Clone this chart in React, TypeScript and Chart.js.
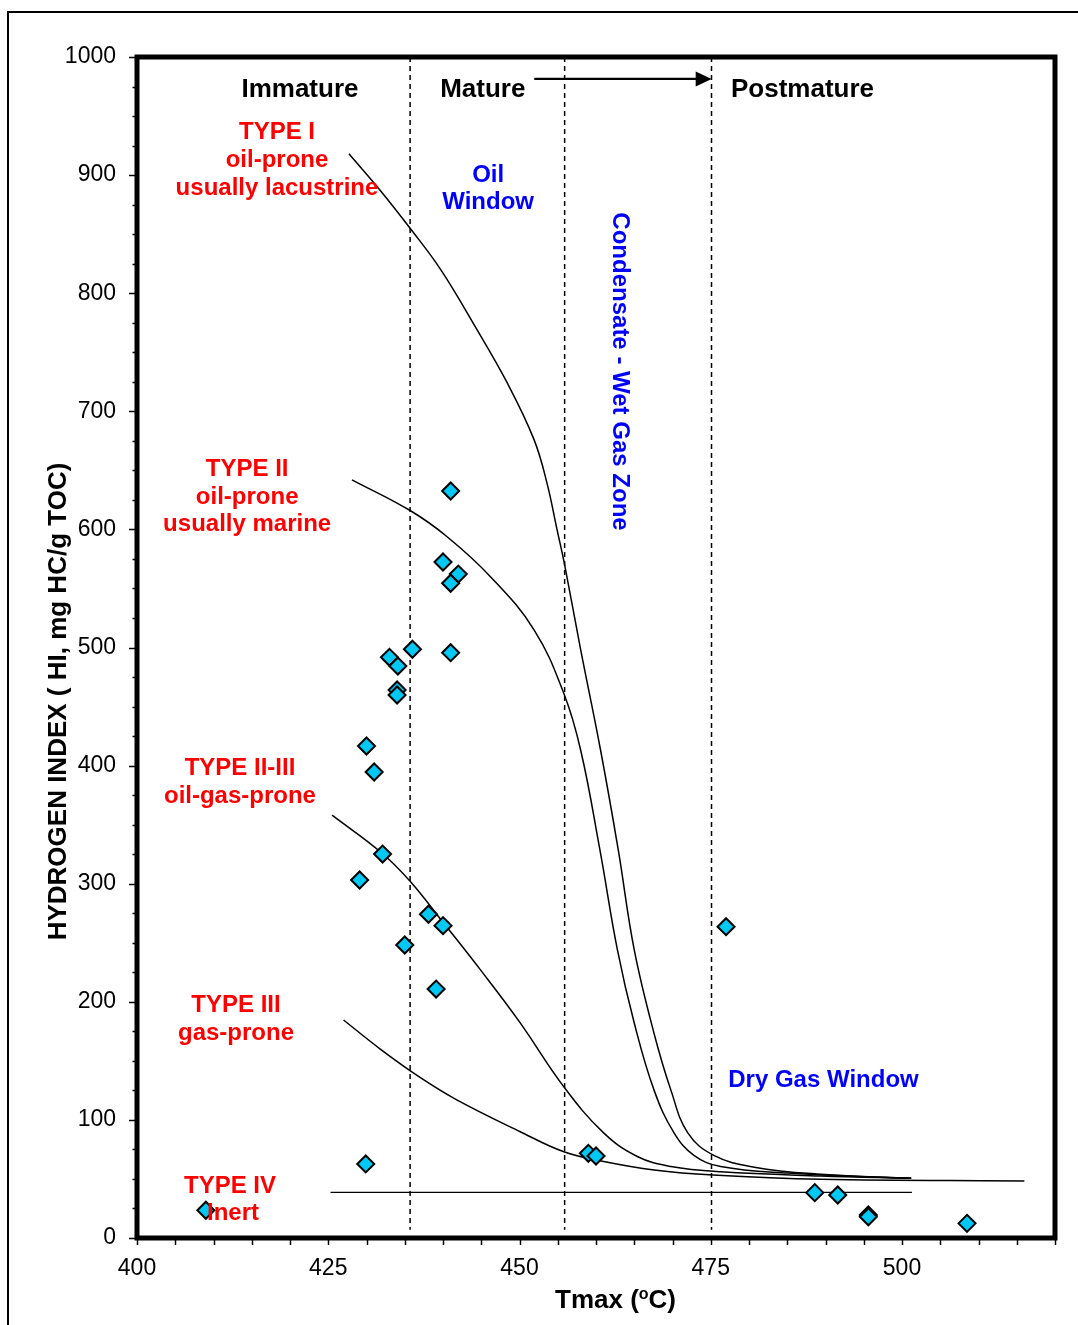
import { useEffect, useRef } from "react";
import { Chart, registerables } from "chart.js";

Chart.register(...registerables);

const FONT = '"Liberation Sans", Arial, Helvetica, sans-serif';

// ---- Sample data (Tmax °C, HI mg HC/g TOC) ----
const sampleTmax = [441.0, 440.0, 442.0, 441.0, 436.0, 441.0, 433.0, 434.1, 434.0, 434.0, 430.0, 431.0, 432.1, 429.1, 438.1, 440.0, 435.0, 439.1, 429.9, 409.0, 459.0, 460.0, 477.0, 488.6, 491.6, 495.6, 495.6, 508.5];
const sampleHI = [632.5, 572.4, 562.2, 554.4, 498.5, 495.6, 491.7, 484.3, 464.0, 459.8, 416.6, 394.6, 325.1, 303.1, 274.1, 264.5, 248.1, 210.8, 62.7, 23.5, 71.7, 69.4, 263.6, 38.4, 36.4, 19.5, 18.0, 12.4];

// ---- Kerogen type maturation curves ----
const typeITmax = [427.7, 431.8, 435.7, 439.7, 444.0, 448.4, 451.9, 453.6, 454.9, 455.9, 458.0, 460.6, 462.9, 465.0, 467.6, 469.8, 472.0, 475.4, 480.7, 489.4, 501.2];
const typeIHI = [918, 887, 855, 820, 774, 724, 676, 639, 600, 570, 498, 413, 329, 244, 173, 125, 89, 70, 60, 54, 50.5];

const typeIITmax = [428.1, 435.7, 440.5, 446.2, 451.9, 455.8, 458.0, 460.5, 462.8, 465.0, 467.6, 470.2, 472.8, 476.3, 485.0, 501.2];
const typeIIHI = [642, 616, 594, 560, 515, 461, 413, 329, 244, 182, 125, 89, 70, 60.5, 55, 50.5];

const typeIIIIITmax = [425.5, 432.0, 435.7, 440.1, 444.9, 450.0, 455.8, 461.0, 465.4, 469.8, 476.3, 489.4, 501.2];
const typeIIIIIHI = [358, 326, 302, 266.5, 227, 183, 128, 89, 69, 60.5, 56, 52.5, 50.5];

const typeIIITmax = [427.0, 431.8, 437.0, 441.8, 450.1, 455.8, 461.0, 467.6, 475.3, 489.4, 516.0];
const typeIIIHI = [184.6, 160, 136, 117, 90, 73, 64.8, 57.6, 53.3, 49.7, 48.3];

const typeIVTmax = [425.3, 501.3];
const typeIVHI = [38.7, 38.7];

// ---- Maturity zone boundaries (Tmax) ----
const boundaryTmax = [435.7, 455.9, 475.1];
const boundaryHIRange = [1000, 7];

// ---- Axis ticks ----
const xMin = 400, xMax = 520, xStep = 5, xLabelEvery = 25, xLabelMax = 500;
const yMin = 0, yMax = 1000, yStep = 25, yLabelEvery = 100;

// ---- Annotations (text placed in data coordinates) ----
type Note = { text: string; x: number; y: number; color: string; size: number; align: CanvasTextAlign; rotate?: number };
const annotations: Note[] = [
  { text: "Immature", x: 421.3, y: 966.1, color: "#000", size: 26, align: "center" },
  { text: "Mature", x: 445.2, y: 966.1, color: "#000", size: 26, align: "center" },
  { text: "Postmature", x: 477.65, y: 966.1, color: "#000", size: 26, align: "left" },
  { text: "TYPE I", x: 418.3, y: 930.6, color: "#FF0000", size: 24, align: "center" },
  { text: "oil-prone", x: 418.3, y: 906.9, color: "#FF0000", size: 24, align: "center" },
  { text: "usually lacustrine", x: 418.3, y: 883.2, color: "#FF0000", size: 24, align: "center" },
  { text: "Oil", x: 445.9, y: 894.4, color: "#0000FF", size: 24, align: "center" },
  { text: "Window", x: 445.9, y: 871.0, color: "#0000FF", size: 24, align: "center" },
  { text: "TYPE II", x: 414.4, y: 645.2, color: "#FF0000", size: 24, align: "center" },
  { text: "oil-prone", x: 414.4, y: 621.5, color: "#FF0000", size: 24, align: "center" },
  { text: "usually marine", x: 414.4, y: 598.9, color: "#FF0000", size: 24, align: "center" },
  { text: "TYPE II-III", x: 413.46, y: 392.0, color: "#FF0000", size: 24, align: "center" },
  { text: "oil-gas-prone", x: 413.46, y: 368.6, color: "#FF0000", size: 24, align: "center" },
  { text: "TYPE III", x: 412.94, y: 191.4, color: "#FF0000", size: 24, align: "center" },
  { text: "gas-prone", x: 412.94, y: 167.7, color: "#FF0000", size: 24, align: "center" },
  { text: "TYPE IV", x: 412.16, y: 38.1, color: "#FF0000", size: 24, align: "center" },
  { text: "Inert", x: 412.55, y: 15.2, color: "#FF0000", size: 24, align: "center" },
  { text: "Dry Gas Window", x: 477.29, y: 127.9, color: "#0000FF", size: 24, align: "left" },
  { text: "Condensate - Wet Gas Zone", x: 462.22, y: 733.7, color: "#0000FF", size: 24, align: "center", rotate: Math.PI / 2 },
];
const arrowFrom = { x: 451.93, y: 981.4 };
const arrowTo = { x: 475.12, y: 981.4 };

const decorPlugin = {
  id: "decor",
  afterDatasetsDraw(chart: any) {
    const { ctx, chartArea: a } = chart;
    const xs = chart.scales.x;
    const ys = chart.scales.y;
    ctx.save();
    // plot frame
    ctx.strokeStyle = "#000";
    ctx.lineWidth = 5;
    ctx.strokeRect(a.left, a.top, a.right - a.left, a.bottom - a.top);
    // tick marks
    ctx.lineWidth = 1.5;
    xs.ticks.forEach((t: any) => {
      const px = Math.round(xs.getPixelForValue(t.value)) + 0.5;
      ctx.beginPath();
      ctx.moveTo(px, a.bottom);
      ctx.lineTo(px, a.bottom + 7);
      ctx.stroke();
    });
    ys.ticks.forEach((t: any) => {
      const py = Math.round(ys.getPixelForValue(t.value)) + 0.5;
      const len = t.value % yLabelEvery === 0 ? 8 : 4.5;
      ctx.beginPath();
      ctx.moveTo(a.left - len, py);
      ctx.lineTo(a.left, py);
      ctx.stroke();
    });
    // arrow
    const x1 = xs.getPixelForValue(arrowFrom.x);
    const x2 = xs.getPixelForValue(arrowTo.x);
    const ay = ys.getPixelForValue(arrowFrom.y);
    ctx.lineWidth = 2.2;
    ctx.beginPath();
    ctx.moveTo(x1, ay);
    ctx.lineTo(x2 - 14, ay);
    ctx.stroke();
    ctx.fillStyle = "#000";
    ctx.beginPath();
    ctx.moveTo(x2, ay);
    ctx.lineTo(x2 - 16, ay - 7.5);
    ctx.lineTo(x2 - 16, ay + 7.5);
    ctx.closePath();
    ctx.fill();
    // annotations
    annotations.forEach((n) => {
      const px = xs.getPixelForValue(n.x);
      const py = ys.getPixelForValue(n.y);
      ctx.save();
      ctx.font = `bold ${n.size}px ${FONT}`;
      ctx.fillStyle = n.color;
      ctx.textAlign = n.align;
      ctx.textBaseline = "alphabetic";
      ctx.translate(px, py);
      if (n.rotate) ctx.rotate(n.rotate);
      ctx.fillText(n.text, 0, 0);
      ctx.restore();
    });
    ctx.restore();
  },
  afterDraw(chart: any) {
    const { ctx } = chart;
    ctx.save();
    ctx.fillStyle = "#000";
    // y-axis title
    ctx.save();
    ctx.font = `bold 26px ${FONT}`;
    ctx.textAlign = "center";
    ctx.textBaseline = "alphabetic";
    ctx.translate(66, 701.5);
    ctx.rotate(-Math.PI / 2);
    ctx.fillText("HYDROGEN INDEX ( HI, mg HC/g TOC)", 0, 0);
    ctx.restore();
    // x-axis title with superscript
    ctx.textAlign = "left";
    ctx.textBaseline = "alphabetic";
    let x = 555;
    ctx.font = `bold 26px ${FONT}`;
    ctx.fillText("Tmax (", x, 1308);
    x += ctx.measureText("Tmax (").width;
    ctx.font = `bold 16px ${FONT}`;
    ctx.fillText("o", x, 1299);
    x += ctx.measureText("o").width;
    ctx.font = `bold 26px ${FONT}`;
    ctx.fillText("C)", x, 1308);
    ctx.restore();
  },
};

export default function App() {
  const ref = useRef<HTMLCanvasElement | null>(null);

  useEffect(() => {
    if (!ref.current) return;
    const line = (tx: number[], hi: number[], label: string) => ({
      label,
      data: tx.map((x, i) => ({ x, y: hi[i] })),
      showLine: true,
      borderColor: "#000",
      borderWidth: 1.5,
      pointRadius: 0,
      tension: 0.4,
      fill: false,
    });
    const datasets: any[] = [
      {
        label: "Samples",
        data: sampleTmax.map((x, i) => ({ x, y: sampleHI[i] })),
        showLine: false,
        pointStyle: "rectRot",
        pointRadius: 8.5,
        pointBackgroundColor: "#00C8F5",
        pointBorderColor: "#000",
        pointBorderWidth: 2,
      },
      line(typeITmax, typeIHI, "Type I"),
      line(typeIITmax, typeIIHI, "Type II"),
      line(typeIIIIITmax, typeIIIIIHI, "Type II-III"),
      line(typeIIITmax, typeIIIHI, "Type III"),
      { ...line(typeIVTmax, typeIVHI, "Type IV"), borderWidth: 1.2, tension: 0 },
      ...boundaryTmax.map((b, i) => ({
        label: `Boundary ${i + 1}`,
        data: boundaryHIRange.map((y) => ({ x: b, y })),
        showLine: true,
        borderColor: "#000",
        borderWidth: 1.5,
        borderDash: [5, 4],
        pointRadius: 0,
        tension: 0,
        fill: false,
      })),
    ];

    const chart = new Chart(ref.current, {
      type: "scatter",
      data: { datasets },
      options: {
        animation: false,
        responsive: false,
        devicePixelRatio: 1,
        layout: { padding: { top: 57, right: 23, left: 0, bottom: 0 } },
        plugins: { legend: { display: false }, tooltip: { enabled: false }, title: { display: false } },
        scales: {
          x: {
            type: "linear",
            min: xMin,
            max: xMax,
            afterFit: (s: any) => { s.height = 87; },
            border: { display: false },
            grid: { display: true, drawOnChartArea: false, drawTicks: true, tickLength: 8, tickColor: "rgba(0,0,0,0)" },
            ticks: {
              stepSize: xStep,
              autoSkip: false,
              maxRotation: 0,
              padding: 9,
              color: "#000",
              font: { family: FONT, size: 23 },
              callback: (v: any) => (v % xLabelEvery === 0 && v <= xLabelMax ? String(v) : ""),
            },
          },
          y: {
            type: "linear",
            min: yMin,
            max: yMax,
            afterFit: (s: any) => { s.width = 137; },
            border: { display: false },
            grid: { display: true, drawOnChartArea: false, drawTicks: true, tickLength: 8, tickColor: "rgba(0,0,0,0)" },
            ticks: {
              stepSize: yStep,
              autoSkip: false,
              padding: 13,
              color: "#000",
              font: { family: FONT, size: 23 },
              callback: (v: any) => (v % yLabelEvery === 0 ? String(v) : ""),
            },
          },
        },
      },
      plugins: [decorPlugin],
    });
    return () => chart.destroy();
  }, []);

  return (
    <div style={{ position: "fixed", left: 0, top: 0, width: 1078, height: 1325, overflow: "hidden", background: "#fff" }}>
      <canvas ref={ref} width={1078} height={1325} style={{ position: "absolute", left: 0, top: 0, width: 1078, height: 1325 }} />
      <div style={{ position: "absolute", left: 7, top: 11, width: 1200, height: 1400, border: "2px solid #000", pointerEvents: "none" }} />
    </div>
  );
}
